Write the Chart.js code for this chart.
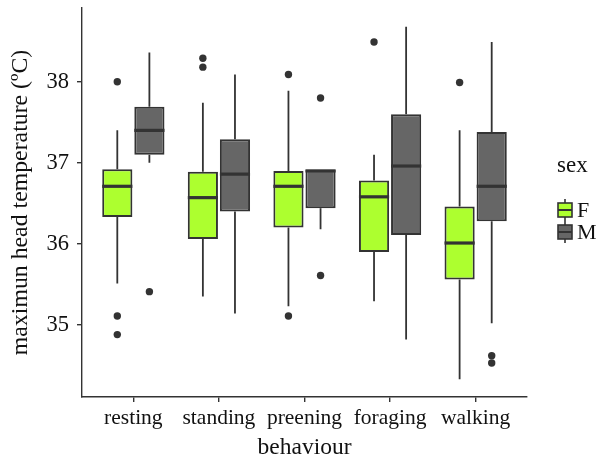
<!DOCTYPE html>
<html>
<head>
<meta charset="utf-8">
<script src="https://cdn.jsdelivr.net/npm/chart.js@4.4.1/dist/chart.umd.min.js"></script>
<style>
html, body { margin: 0; padding: 0; background: #fff; }
#wrap { width: 616px; height: 459px; }
</style>
</head>
<body>
<div id="wrap"><canvas id="js--chart"></canvas></div>
<script>
const behaviours = ["resting", "standing", "preening", "foraging", "walking"]
const sexes = ["F", "M"]
const yTicks = [35, 36, 37, 38]

// box summaries, females
const lowF = [35.51, 35.35, 35.23, 35.29, 34.33]
const q1F = [36.33, 36.06, 36.20, 35.90, 35.56]
const medF = [36.71, 36.57, 36.71, 36.58, 36.01]
const q3F = [36.92, 36.89, 36.90, 36.78, 36.46]
const highF = [37.40, 37.74, 37.89, 37.10, 37.40]
const outF = [[38.00, 35.11, 34.88], [38.29, 38.18], [38.09, 35.11], [38.49], [37.99]]

// box summaries, males
const lowM = [37.00, 35.14, 36.18, 34.82, 35.02]
const q1M = [37.10, 36.40, 36.44, 36.11, 36.28]
const medM = [37.40, 36.86, 36.90, 36.96, 36.71]
const q3M = [37.69, 37.29, 36.91, 37.60, 37.38]
const highM = [38.36, 38.09, 36.91, 38.68, 38.49]
const outM = [[35.41], [], [37.80, 35.61], [], [34.62, 34.53]]

const fillF = '#adff2f'
const fillM = '#666666'
const ink = '#333333'
const serif = "'Liberation Serif', 'DejaVu Serif', serif"

const groupShare = 0.75
const shift = groupShare / 4

const boxes = [
    { low: lowF, med: medF, high: highF, q1: q1F, q3: q3F },
    { low: lowM, med: medM, high: highM, q1: q1M, q3: q3M },
]

const whiskerPlugin = {
    id: 'whiskers',
    beforeDatasetsDraw(chart) {
        const ctx = chart.ctx
        const y = chart.scales.y
        ctx.save()
        ctx.strokeStyle = ink
        ctx.lineWidth = 1.8
        boxes.forEach((b, d) => {
            chart.getDatasetMeta(d).data.forEach((bar, i) => {
                ctx.beginPath()
                ctx.moveTo(bar.x, y.getPixelForValue(b.low[i]))
                ctx.lineTo(bar.x, y.getPixelForValue(b.q1[i]))
                ctx.moveTo(bar.x, y.getPixelForValue(b.q3[i]))
                ctx.lineTo(bar.x, y.getPixelForValue(b.high[i]))
                ctx.stroke()
            })
        })
        ctx.restore()
    },
    afterDatasetsDraw(chart) {
        const ctx = chart.ctx
        const y = chart.scales.y
        ctx.save()
        ctx.strokeStyle = ink
        ctx.lineWidth = 3.2
        boxes.forEach((b, d) => {
            chart.getDatasetMeta(d).data.forEach((bar, i) => {
                const py = y.getPixelForValue(b.med[i])
                ctx.beginPath()
                ctx.moveTo(bar.x - bar.width / 2, py)
                ctx.lineTo(bar.x + bar.width / 2, py)
                ctx.stroke()
            })
        })
        ctx.restore()
    },
    afterDraw(chart) {
        const ctx = chart.ctx
        const x0 = chart.chartArea.right + 30
        ctx.save()
        ctx.fillStyle = '#111'
        ctx.font = "23px " + serif
        ctx.textBaseline = 'middle'
        ctx.fillText("sex", x0, 166)
        const fills = [fillF, fillM]
        sexes.forEach((s, k) => {
            const cy = 210 + k * 22
            ctx.strokeStyle = ink
            ctx.lineWidth = 1.6
            ctx.beginPath()
            ctx.moveTo(x0 + 8, cy - 11)
            ctx.lineTo(x0 + 8, cy + 11)
            ctx.stroke()
            ctx.fillStyle = fills[k]
            ctx.fillRect(x0 + 1, cy - 7, 14, 14)
            ctx.strokeRect(x0 + 1, cy - 7, 14, 14)
            ctx.lineWidth = 2
            ctx.beginPath()
            ctx.moveTo(x0 + 1, cy)
            ctx.lineTo(x0 + 15, cy)
            ctx.stroke()
            ctx.fillStyle = '#111'
            ctx.font = "22px " + serif
            ctx.fillText(s, x0 + 20, cy + 1)
        })
        ctx.restore()
    }
}

const barSet = (k, q1, q3, fill) => ({
    type: 'bar',
    label: sexes[k],
    data: behaviours.map((b, i) => ({ x: i + 1, y: [q1[i], q3[i]] })),
    backgroundColor: fill,
    borderColor: ink,
    borderWidth: 2,
    borderSkipped: false,
    categoryPercentage: groupShare,
    barPercentage: 0.94,
})

const outSet = (outs, dx) => ({
    type: 'scatter',
    data: outs.flatMap((vals, i) => vals.map(v => ({ x: i + 1 + dx, y: v }))),
    backgroundColor: ink,
    borderColor: ink,
    pointRadius: 3.7,
    pointBorderWidth: 0,
})

const config = {
    type: 'bar',
    data: {
        datasets: [
            barSet(0, q1F, q3F, fillF),
            barSet(1, q1M, q3M, fillM),
            outSet(outF, -shift),
            outSet(outM, shift),
        ]
    },
    options: {
        responsive: true,
        maintainAspectRatio: false,
        animation: false,
        layout: { padding: { top: 8, right: 89, left: 0, bottom: 0 } },
        plugins: {
            legend: { display: false },
            tooltip: { enabled: false },
        },
        scales: {
            x: {
                type: 'linear',
                offset: false,
                min: 0.4,
                max: 5.6,
                afterBuildTicks: (scale) => { scale.ticks = behaviours.map((b, i) => ({ value: i + 1 })) },
                afterFit: (scale) => { scale.height = 62 },
                ticks: {
                    callback: (v) => behaviours[v - 1],
                    color: '#111',
                    font: { family: serif, size: 21.5 },
                    padding: 3,
                    maxRotation: 0,
                    autoSkip: false,
                },
                grid: { offset: false, drawOnChartArea: false, drawTicks: true, tickLength: 5, color: ink, lineWidth: 1.4 },
                border: { display: true, color: ink, width: 1.4 },
                title: {
                    display: true,
                    text: "behaviour",
                    color: '#111',
                    font: { family: serif, size: 23.5 },
                    padding: { top: 0, bottom: -3 },
                },
            },
            y: {
                min: 34.11,
                max: 38.91,
                afterBuildTicks: (scale) => { scale.ticks = yTicks.map(v => ({ value: v })) },
                afterFit: (scale) => {
                    scale.width = 82
                    scale.paddingTop = 0
                    scale.paddingBottom = 0
                },
                ticks: {
                    color: '#111',
                    font: { family: serif, size: 22.5 },
                    padding: 8,
                },
                grid: { drawOnChartArea: false, drawTicks: true, tickLength: 5, color: ink, lineWidth: 1.4 },
                border: { display: true, color: ink, width: 1.4 },
                title: {
                    display: true,
                    text: "maximun head temperature (ºC)",
                    color: '#111',
                    font: { family: serif, size: 23.8 },
                    padding: { top: 6, bottom: 0 },
                },
            },
        },
    },
    plugins: [whiskerPlugin],
}

new Chart(document.getElementById("js--chart"), config)
</script>
</body>
</html>
